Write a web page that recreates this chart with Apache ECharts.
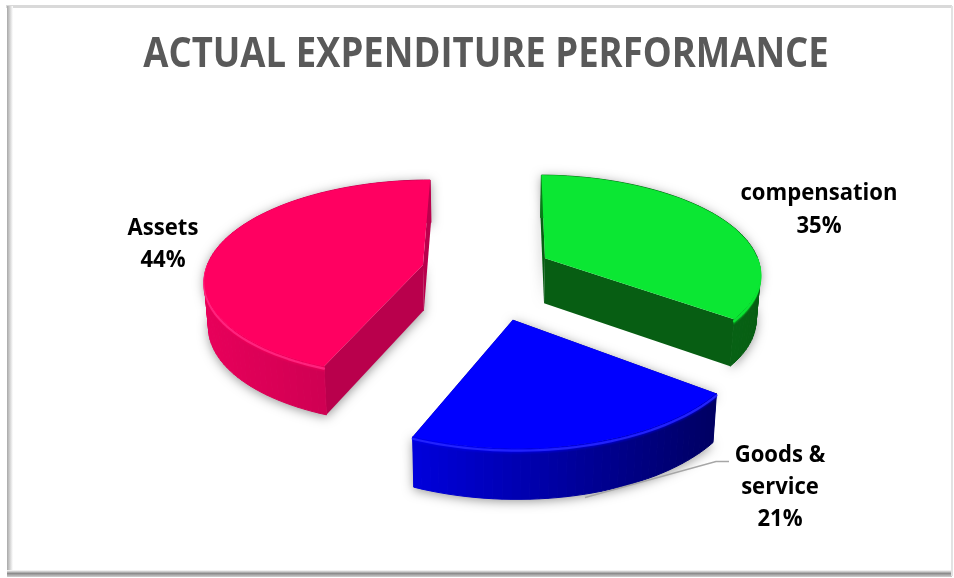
<!DOCTYPE html>
<html>
<head>
<meta charset="utf-8">
<style>html,body{margin:0;padding:0;background:#fff}#c{width:954px;height:578px}</style>
<script src="https://cdn.jsdelivr.net/npm/echarts@6/dist/echarts.min.js"></script>
</head>
<body>
<div id="c"></div>
<script>
const categories = ['compensation', 'Goods & service', 'Assets'];
const shares = [35, 21, 44];

// Camera: vanishing point, focal scales and eye distance are folded into A and B.
const VX = 485, VY = -470, A = 1650, B = 5512;
// Where each wedge's tip sits on the ground plane once pulled out of the pie.
const tips = [
  { x: 0.275, d: 7.57, r: 0.975, turn: 1 },
  { x: 0.118, d: 6.98, r: 0.98, turn: 1.5 },
  { x: -0.282, d: 7.5, r: 0.98, turn: 0 }
];
const palettes = [
  { top: '#0BE733', hi: '#0BE733', cut: '#075E13', rimL: [10, 122, 26], rimR: [7, 94, 19] },
  { top: '#0000FF', hi: '#2A2AFF', cut: '#000080', rimL: [0, 0, 220], rimR: [0, 0, 98] },
  { top: '#FF0061', hi: '#FF2C86', cut: '#B9004C', rimL: [232, 0, 90], rimR: [185, 0, 76] }
];

function project(tip, X, Y) {
  const depth = tip.d + Y;
  return [VX + A * X / depth, VY + B / depth];
}
// A ground-plane point at the slab's underside: pushed down and pulled a little toward the vanishing line.
function sink(p) {
  return [VX + (p[0] - VX) * 0.985, p[1] + 45 + (p[1] - 258) * 0.03];
}
function wedge(tip, from, to) {
  const pts = [];
  const n = Math.max(8, Math.ceil((to - from) / 2));
  for (let i = 0; i <= n; i++) {
    const t = (from + (to - from) * i / n) * Math.PI / 180;
    const p = project(tip, tip.x + tip.r * Math.sin(t), tip.r * Math.cos(t));
    p.front = Math.cos(t) < 0.05;
    pts.push(p);
  }
  return pts;
}

const total = shares.reduce((a, b) => a + b, 0);
const starts = [];
shares.reduce((acc, v, i) => { starts[i] = acc; return acc + v; }, 0);

function poly(points, fill, extra) {
  return Object.assign({ type: 'polygon', shape: { points }, style: { fill }, silent: true }, extra || {});
}
function line(points, stroke, width, opacity) {
  return { type: 'polyline', shape: { points }, silent: true,
    style: { fill: 'none', stroke, lineWidth: width, opacity, lineJoin: 'round', lineCap: 'round' } };
}
function mix(a, b, t) {
  return 'rgb(' + a.map((v, i) => Math.round(v + (b[i] - v) * t)).join(',') + ')';
}

function renderSlice(params, api) {
  const i = api.value(0);
  const tip = tips[i], pal = palettes[i];
  const from = starts[i] / total * 360 + tip.turn;
  const to = (starts[i] + api.value(1)) / total * 360 + tip.turn;
  const arc = wedge(tip, from, to);
  const apex = project(tip, tip.x, 0);
  const lower = arc.map(sink);
  const apexLow = sink(apex);
  const xs = arc.concat(lower).map(p => p[0]);
  const x0 = Math.min(...xs), x1 = Math.max(...xs);
  const last = arc.length - 1;
  const children = [];
  const outline = [apex].concat(arc).concat(lower.slice().reverse()).concat([apexLow]);
  children.push(poly(outline, '#cfcfcf', { style: {
    fill: '#cfcfcf', shadowColor: 'rgba(0,0,0,0.42)', shadowBlur: 11, shadowOffsetX: 0, shadowOffsetY: 2 } }));
  // Cut faces go down first; the curved rim then covers any that face away.
  children.push(poly([apex, arc[0], lower[0], apexLow], pal.cut));
  children.push(poly([apex, arc[last], lower[last], apexLow], pal.cut));
  // The rim is swept one facet at a time so the silhouette stays tangent at the sides.
  for (let k = 0; k < last; k++) {
    const shade = mix(pal.rimL, pal.rimR, ((arc[k][0] + arc[k + 1][0]) / 2 - x0) / (x1 - x0));
    children.push(poly([arc[k], arc[k + 1], lower[k + 1], lower[k]], shade, {
      style: { fill: shade, stroke: shade, lineWidth: 1 }
    }));
  }
  // Soft bevel where the flat top rolls over into the rim.
  const frontArc = arc.filter(p => p.front);
  const alphas = [0.85, 0.6, 0.38, 0.2, 0.1];
  alphas.forEach((a, k) => {
    children.push(line(frontArc.map(p => [p[0], p[1] + k + 1]), pal.top, 1.6, a));
  });
  children.push(line(frontArc.map(p => [p[0], p[1] + 2]), pal.hi, 2.2, 0.8));
  children.push(poly([apex].concat(arc), pal.top));
  return { type: 'group', children };
}

const chart = echarts.init(document.getElementById('c'), null, { renderer: 'canvas' });
const labelFont = 'bold 24px "Open Sans", Lato, sans-serif';
function frameGrad(x, y, x2, y2, stops) {
  return { type: 'linear', x, y, x2, y2, colorStops: stops.map((c, i) => ({ offset: i / (stops.length - 1), color: c })) };
}
chart.setOption({
  animation: false,
  backgroundColor: '#ffffff',
  graphic: [
    { type: 'rect', shape: { x: 6, y: 5, width: 946, height: 3 }, style: { fill: '#d9d9d9' }, silent: true },
    { type: 'rect', shape: { x: 7, y: 6, width: 6, height: 566 }, style: { fill: frameGrad(0, 0, 1, 0, ['#a8a8a8', '#ffffff']) }, silent: true },
    { type: 'rect', shape: { x: 7, y: 570, width: 945, height: 7 }, style: { fill: frameGrad(0, 0, 0, 1, ['#ffffff', '#8c8c8c', '#d0d0d0']) }, silent: true },
    { type: 'rect', shape: { x: 951, y: 6, width: 2, height: 570 }, style: { fill: '#e2e2e2' }, silent: true },
    { type: 'text', z: 5, x: 486, y: 55, scaleX: 0.89, silent: true, style: { text: 'ACTUAL EXPENDITURE PERFORMANCE', font: 'bold 41px "Open Sans", Lato, sans-serif', fill: '#595959', align: 'center', verticalAlign: 'middle' } },
    { type: 'polyline', z: 5, shape: { points: [[585, 497.5], [716, 461.5], [729, 461.5]] }, style: { fill: 'none', stroke: '#a6a6a6', lineWidth: 1.3 }, silent: true },
    { type: 'text', z: 5, x: 819, y: 209.5, scaleX: 0.92, silent: true, style: { text: 'compensation\n35%', font: labelFont, fill: '#000', align: 'center', verticalAlign: 'middle', lineHeight: 33 } },
    { type: 'text', z: 5, x: 780, y: 487.5, scaleX: 0.92, silent: true, style: { text: 'Goods &\nservice\n21%', font: labelFont, fill: '#000', align: 'center', verticalAlign: 'middle', lineHeight: 32 } },
    { type: 'text', z: 5, x: 163, y: 244.5, scaleX: 0.92, silent: true, style: { text: 'Assets\n44%', font: labelFont, fill: '#000', align: 'center', verticalAlign: 'middle', lineHeight: 32 } }
  ],
  series: [{
    type: 'custom',
    coordinateSystem: 'none',
    renderItem: renderSlice,
    data: categories.map((name, i) => ({ name, value: [i, shares[i]] })),
    silent: true
  }]
});
</script>
</body>
</html>
